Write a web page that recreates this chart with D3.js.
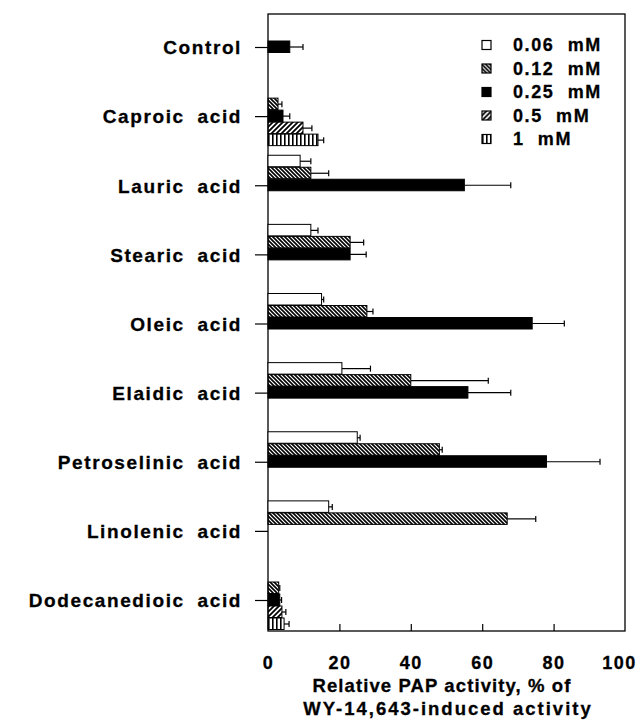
<!DOCTYPE html>
<html>
<head>
<meta charset="utf-8">
<script src="https://cdn.jsdelivr.net/npm/d3@7"></script>
<style>
  body { margin: 0; background: #fff; }
  svg text { font-family: "Liberation Sans", Arial, sans-serif; font-weight: bold; fill: #000; stroke: #000; stroke-width: 0.3px; }
</style>
</head>
<body>
<div id="chart"></div>
<script>
// categories, top to bottom
const categories = [
  "Control", "Caproic acid", "Lauric acid", "Stearic acid", "Oleic acid",
  "Elaidic acid", "Petroselinic acid", "Linolenic acid", "Dodecanedioic acid"
];
const concentrations = ["0.06", "0.12", "0.25", "0.5", "1"];

// values (% of WY-14,643-induced activity), null = not tested
const val006 = [null, null, 9, 12, 15, 20.7, 25, 17, null];
const err006 = [null, null, 3, 2, 0.6, 8, 0.8, 1, null];
const val012 = [null, 2.8, 12, 23, 27.7, 40, 48, 67, 3];
const err012 = [null, 1.1, 5, 3.8, 1.7, 21.7, 0.8, 8, 0.3];
const val025 = [6.1, 4.2, 55, 23, 74, 56, 78, null, 3.3];
const err025 = [3.7, 1.9, 13, 4.5, 9, 12, 15, null, 0.5];
const val05 = [null, 9.8, null, null, null, null, null, null, 3.9];
const err05 = [null, 2.5, null, null, null, null, null, null, 1.1];
const val1 = [null, 14, null, null, null, null, null, null, 4.5];
const err1 = [null, 1.6, null, null, null, null, null, null, 1.4];

const xTicks = [0, 20, 40, 60, 80, 100];

const seriesVals = [val006, val012, val025, val05, val1];
const seriesErrs = [err006, err012, err025, err05, err1];

const rows = [];
concentrations.forEach((c, i) => {
  categories.forEach((cat, j) => {
    if (seriesVals[i][j] != null) {
      rows.push({ cat: cat, conc: c, value: seriesVals[i][j], err: seriesErrs[i][j] });
    }
  });
});

const width = 641, height = 725;
const frame = { left: 268, right: 625, top: 14, bottom: 631 };

const svg = d3.select("#chart").append("svg")
  .attr("width", width)
  .attr("height", height);

// fill patterns
const defs = svg.append("defs");

defs.append("pattern")
  .attr("id", "p012")
  .attr("patternUnits", "userSpaceOnUse")
  .attr("width", 4).attr("height", 4)
  .append("path")
  .attr("d", "M-1,3 l2,2 M0,0 l4,4 M3,-1 l2,2")
  .attr("stroke", "#000").attr("stroke-width", 1.6);

defs.append("pattern")
  .attr("id", "p05")
  .attr("patternUnits", "userSpaceOnUse")
  .attr("width", 5).attr("height", 5)
  .append("path")
  .attr("d", "M-1,1 l2,-2 M0,5 l5,-5 M4,6 l2,-2")
  .attr("stroke", "#000").attr("stroke-width", 1.8);

const p1 = defs.append("pattern")
  .attr("id", "p1")
  .attr("patternUnits", "userSpaceOnUse")
  .attr("width", 4).attr("height", 4);
p1.append("rect").attr("width", 4).attr("height", 4).attr("fill", "#fff");
p1.append("rect").attr("x", 0).attr("width", 1.6).attr("height", 4).attr("fill", "#000");

const fills = {
  "0.06": "#fff",
  "0.12": "url(#p012)",
  "0.25": "#000",
  "0.5": "url(#p05)",
  "1": "url(#p1)"
};

// scales
const x = d3.scaleLinear().domain([0, 100]).range([frame.left, frame.right]);
const y = d3.scalePoint().domain(categories).range([47, 600]);
const yInner = d3.scaleBand().domain(concentrations).range([-30, 30]).padding(0);

// frame
svg.append("rect")
  .attr("x", frame.left).attr("y", frame.top)
  .attr("width", frame.right - frame.left)
  .attr("height", frame.bottom - frame.top)
  .attr("fill", "none")
  .attr("stroke", "#000")
  .attr("stroke-width", 1.3);

// bars
const bars = svg.append("g");
bars.selectAll("rect")
  .data(rows)
  .join("rect")
  .attr("x", x(0))
  .attr("y", d => y(d.cat) + yInner(d.conc))
  .attr("width", d => x(d.value) - x(0))
  .attr("height", yInner.bandwidth() - 0.5)
  .attr("fill", d => fills[d.conc])
  .attr("stroke", "#000")
  .attr("stroke-width", 1);

// error bars
const errG = svg.append("g").attr("stroke", "#000").attr("stroke-width", 1.2);
errG.selectAll("line.whisker")
  .data(rows)
  .join("line")
  .attr("class", "whisker")
  .attr("x1", d => x(d.value))
  .attr("x2", d => x(d.value + d.err))
  .attr("y1", d => y(d.cat) + yInner(d.conc) + yInner.bandwidth() / 2)
  .attr("y2", d => y(d.cat) + yInner(d.conc) + yInner.bandwidth() / 2);
errG.selectAll("line.cap")
  .data(rows)
  .join("line")
  .attr("class", "cap")
  .attr("x1", d => x(d.value + d.err))
  .attr("x2", d => x(d.value + d.err))
  .attr("y1", d => y(d.cat) + yInner(d.conc) + yInner.bandwidth() / 2 - 3)
  .attr("y2", d => y(d.cat) + yInner(d.conc) + yInner.bandwidth() / 2 + 3);

// y axis: outward ticks on the left edge
const yAxisG = svg.append("g")
  .attr("transform", `translate(${frame.left},0)`)
  .call(d3.axisLeft(y).tickSize(13).tickPadding(13));
yAxisG.select(".domain").remove();
yAxisG.selectAll(".tick line").attr("stroke-width", 1.2);
yAxisG.selectAll(".tick text")
  .attr("font-size", "19px")
  .attr("letter-spacing", "1.6px")
  .attr("word-spacing", "6px")
  .attr("dy", "0.36em");

// x axis: inward ticks, labels below
const xAxisG = svg.append("g")
  .attr("transform", `translate(0,${frame.bottom})`)
  .call(d3.axisBottom(x).tickValues(xTicks).tickSize(-7).tickPadding(25).tickFormat(d3.format("d")));
xAxisG.select(".domain").remove();
xAxisG.selectAll(".tick line")
  .attr("stroke-width", 1.2)
  .attr("display", d => (d === 0 || d === 100) ? "none" : null);
xAxisG.selectAll(".tick text")
  .attr("font-size", "18px")
  .attr("letter-spacing", "1.5px")
  .attr("dx", d => d === 100 ? -6 : 0);

// axis title
const title = svg.append("text")
  .attr("text-anchor", "middle")
  .attr("font-size", "18.5px");
title.append("tspan").attr("x", 442).attr("y", 692)
  .attr("letter-spacing", "1.1px")
  .text("Relative PAP activity, % of");
title.append("tspan").attr("x", 448).attr("y", 715)
  .attr("letter-spacing", "2px")
  .text("WY-14,643-induced activity");

// legend
const legendY = d3.scalePoint().domain(concentrations).range([45, 139]);
const legend = svg.append("g");
const li = legend.selectAll("g")
  .data(concentrations)
  .join("g")
  .attr("transform", d => `translate(482,${legendY(d)})`);
li.append("rect")
  .attr("x", 0).attr("y", -4.5)
  .attr("width", 9).attr("height", 9)
  .attr("fill", d => fills[d])
  .attr("stroke", "#000")
  .attr("stroke-width", 1.2);
li.append("text")
  .attr("x", 31)
  .attr("dy", "0.36em")
  .attr("font-size", "18px")
  .attr("letter-spacing", "1.6px")
  .attr("xml:space", "preserve")
  .style("white-space", "pre")
  .text(d => `${d}  mM`);
</script>
</body>
</html>
